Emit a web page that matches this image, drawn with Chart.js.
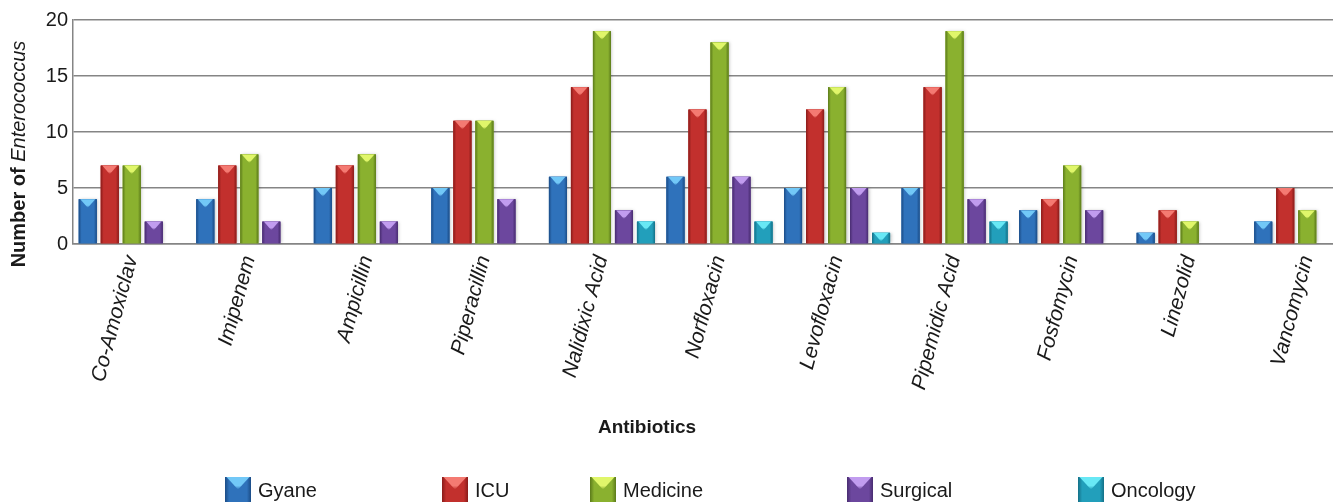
<!DOCTYPE html>
<html>
<head>
<meta charset="utf-8">
<script src="https://cdn.jsdelivr.net/npm/chart.js@4"></script>
<style>
  html, body { margin: 0; padding: 0; background: #fff; }
  #wrap { width: 1333px; height: 502px; overflow: hidden; position: relative; }
  canvas { display: block; }
</style>
</head>
<body>
<div id="wrap"><canvas id="chart" width="1368" height="502"></canvas></div>
<script>
// Antibiotic categories and counts per ward
const antibiotics = ['Co-Amoxiclav', 'Imipenem', 'Ampicillin', 'Piperacillin', 'Nalidixic Acid',
  'Norfloxacin', 'Levofloxacin', 'Pipemidic Acid', 'Fosfomycin', 'Linezolid', 'Vancomycin'];
const gyane    = [4, 4, 5, 5, 6, 6, 5, 5, 3, 1, 2];
const icu      = [7, 7, 7, 11, 14, 12, 12, 14, 4, 3, 5];
const medicine = [7, 8, 8, 11, 19, 18, 14, 19, 7, 2, 3];
const surgical = [2, 2, 2, 4, 3, 6, 5, 4, 3, 0, 0];
const oncology = [0, 0, 0, 0, 2, 2, 1, 2, 0, 0, 0];
const yTicks = [0, 5, 10, 15, 20];

const FONT = "'Liberation Sans', Arial, sans-serif";
const TEXT = '#1a1a1a';
const GRID = '#858585';

// base / light (top facet) / dark (side edges) per series
const palette = [
  { base: '#2f72bb', light: '#72c8f7', dark: '#1b4c86' },
  { base: '#c2302d', light: '#f47a72', dark: '#891c1a' },
  { base: '#8ab12f', light: '#e0f66a', dark: '#5b7a1a' },
  { base: '#6c479e', light: '#c19cef', dark: '#482c70' },
  { base: '#229fbb', light: '#68e8f5', dark: '#147087' }
];

function bevelBar(ctx, left, top, w, bottom, pal) {
  const h = bottom - top;
  if (h <= 0.5) return;
  const g = ctx.createLinearGradient(left, 0, left + w, 0);
  g.addColorStop(0, pal.dark);
  g.addColorStop(0.16, pal.base);
  g.addColorStop(0.5, pal.base);
  g.addColorStop(0.84, pal.base);
  g.addColorStop(1, pal.dark);
  ctx.fillStyle = g;
  ctx.fillRect(left, top, w, h);
  // top facet
  const th = Math.min(w * 0.48, h);
  const tg = ctx.createLinearGradient(0, top, 0, top + th);
  tg.addColorStop(0, pal.light);
  tg.addColorStop(0.7, pal.light);
  tg.addColorStop(1, pal.base);
  ctx.beginPath();
  ctx.moveTo(left + 1.5, top);
  ctx.lineTo(left + w - 1.5, top);
  ctx.lineTo(left + w / 2, top + th);
  ctx.closePath();
  ctx.fillStyle = tg;
  ctx.fill();
}

const bevelPlugin = {
  id: 'bevel',
  afterDatasetsDraw(chart) {
    const ctx = chart.ctx;
    ctx.save();
    chart.getSortedVisibleDatasetMetas().forEach(meta => {
      const pal = palette[meta.index];
      meta.data.forEach(el => {
        const p = el.getProps(['x', 'y', 'base', 'width'], true);
        const left = p.x - p.width / 2;
        ctx.save();
        ctx.shadowColor = 'rgba(0,0,0,0.25)';
        ctx.shadowBlur = 3;
        ctx.shadowOffsetX = 1.5;
        ctx.shadowOffsetY = 0;
        if (p.base - p.y > 0.5) {
          ctx.fillStyle = pal.base;
          ctx.fillRect(left, p.y, p.width, p.base - p.y);
        }
        ctx.restore();
        bevelBar(ctx, left, p.y, p.width, p.base, pal);
      });
    });
    ctx.restore();
  }
};

const decorPlugin = {
  id: 'decor',
  afterDraw(chart) {
    const ctx = chart.ctx;
    ctx.save();
    ctx.fillStyle = TEXT;
    // y axis title
    ctx.translate(19, 154);
    ctx.rotate(-Math.PI / 2);
    const boldF = 'bold 20px ' + FONT;
    const italF = 'italic 20px ' + FONT;
    ctx.font = boldF;
    const w1 = ctx.measureText('Number of ').width;
    ctx.font = italF;
    const w2 = ctx.measureText('Enterococcus').width;
    const start = -(w1 + w2) / 2;
    ctx.textBaseline = 'middle';
    ctx.textAlign = 'left';
    ctx.font = boldF;
    ctx.fillText('Number of ', start, 0);
    ctx.font = italF;
    ctx.fillText('Enterococcus', start + w1, 0);
    ctx.restore();

    // x axis title
    ctx.save();
    ctx.fillStyle = TEXT;
    ctx.font = 'bold 19px ' + FONT;
    ctx.textAlign = 'center';
    ctx.textBaseline = 'middle';
    ctx.fillText('Antibiotics', 647, 428);
    ctx.restore();

    // legend
    const boxX = [225, 442, 590, 847, 1078];
    ctx.save();
    ctx.font = '20px ' + FONT;
    ctx.textBaseline = 'alphabetic';
    ctx.textAlign = 'left';
    chart.data.datasets.forEach((ds, i) => {
      const x = boxX[i];
      bevelBar(ctx, x, 477, 26, 503, palette[i]);
      ctx.fillStyle = TEXT;
      ctx.fillText(ds.label, x + 33, 497);
    });
    ctx.restore();
  }
};

const seriesNames = ['Gyane', 'ICU', 'Medicine', 'Surgical', 'Oncology'];
const seriesValues = [gyane, icu, medicine, surgical, oncology];

new Chart(document.getElementById('chart'), {
  type: 'bar',
  data: {
    labels: antibiotics,
    datasets: seriesNames.map((name, i) => ({
      label: name,
      data: seriesValues[i],
      backgroundColor: palette[i].base,
      borderWidth: 0,
      categoryPercentage: 0.936,
      barPercentage: 0.82
    }))
  },
  options: {
    responsive: false,
    animation: false,
    devicePixelRatio: 1,
    layout: { padding: { top: 20, right: 2, left: 0, bottom: 0 } },
    plugins: { legend: { display: false }, tooltip: { enabled: false } },
    scales: {
      x: {
        grid: { display: false },
        border: { display: true, color: GRID, width: 1.5 },
        ticks: {
          color: TEXT,
          font: { family: FONT, size: 21, style: 'italic' },
          minRotation: 75,
          maxRotation: 75,
          autoSkip: false,
          padding: 1
        },
        afterFit(scale) { scale.height = 258; }
      },
      y: {
        min: 0,
        max: 20,
        afterBuildTicks(scale) { scale.ticks = yTicks.map(v => ({ value: v })); },
        grid: { color: GRID, lineWidth: 1.5, drawTicks: false },
        border: { display: true, color: GRID, width: 1.5 },
        ticks: {
          color: TEXT,
          font: { family: FONT, size: 20 },
          padding: 5
        },
        afterFit(scale) { scale.width = 73; }
      }
    }
  },
  plugins: [bevelPlugin, decorPlugin]
});
</script>
</body>
</html>
